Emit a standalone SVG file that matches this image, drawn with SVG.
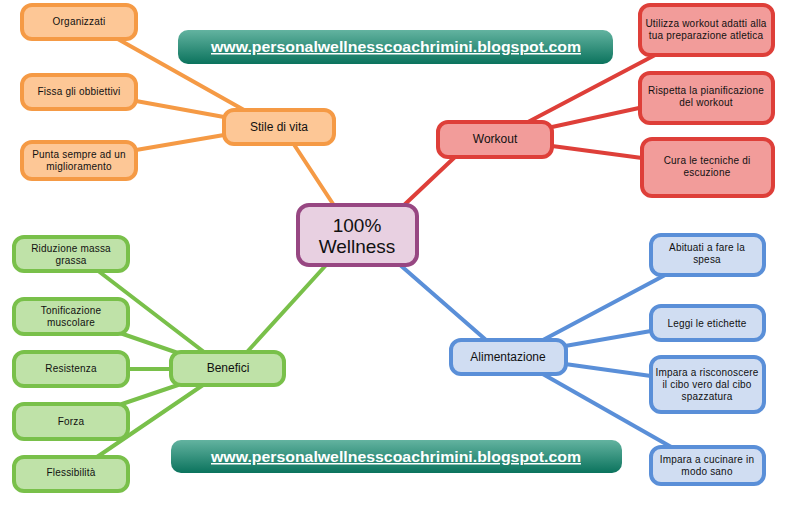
<svg xmlns="http://www.w3.org/2000/svg" width="787" height="509" viewBox="0 0 787 509">
<defs>
<linearGradient id="bg" x1="0" y1="0" x2="0" y2="1">
<stop offset="0" stop-color="#63b3a0"/>
<stop offset="1" stop-color="#0b735d"/>
</linearGradient>
<style>
text{font-family:"Liberation Sans",Arial,sans-serif;fill:#111;text-anchor:middle}
.s{font-size:10px;letter-spacing:0.2px}
.m{font-size:12px}
.c{font-size:19px}
.b{font-size:15px;font-weight:bold;fill:#fff;text-decoration:underline}
.o rect{fill:#fdc796;stroke:#f59a45;stroke-width:4}
.r rect{fill:#f29c9a;stroke:#de3f39;stroke-width:4}
.g rect{fill:#bfe2a8;stroke:#79c04a;stroke-width:4}
.bl rect{fill:#d0ddf2;stroke:#5a8fd8;stroke-width:4}
.p rect{fill:#e8d0e1;stroke:#974782;stroke-width:4}
#connectors line{stroke-width:4;stroke-linecap:round}
.lo{stroke:#f59a45}.lr{stroke:#de3f39}.lg{stroke:#79c04a}.lb{stroke:#5a8fd8}
.ban{fill:url(#bg)}
</style>
</defs>
<rect width="787" height="509" fill="#fff"/>
<g id="connectors">
<line class="lo" x1="335" y1="207" x2="293" y2="143"/>
<line class="lo" x1="116" y1="38" x2="244" y2="110"/>
<line class="lo" x1="136" y1="101" x2="224" y2="117"/>
<line class="lo" x1="136" y1="150" x2="224" y2="135"/>
<line class="lr" x1="402" y1="207" x2="456" y2="156"/>
<line class="lr" x1="528" y1="122" x2="657" y2="54"/>
<line class="lr" x1="552" y1="127" x2="639" y2="108"/>
<line class="lr" x1="552" y1="146" x2="642" y2="158"/>
<line class="lg" x1="327" y1="264" x2="247" y2="352"/>
<line class="lg" x1="97" y1="270" x2="204" y2="352"/>
<line class="lg" x1="120" y1="333" x2="178" y2="353"/>
<line class="lg" x1="128" y1="369" x2="172" y2="369"/>
<line class="lg" x1="122" y1="404" x2="178" y2="385"/>
<line class="lg" x1="97" y1="457" x2="203" y2="385"/>
<line class="lb" x1="399" y1="264" x2="486" y2="340"/>
<line class="lb" x1="543" y1="340" x2="667" y2="274"/>
<line class="lb" x1="565" y1="346" x2="651" y2="331"/>
<line class="lb" x1="565" y1="364" x2="651" y2="376"/>
<line class="lb" x1="541" y1="373" x2="673" y2="448"/>
</g>
<g id="banner-top">
<rect class="ban" x="178" y="30" width="435" height="34" rx="10"/>
<text class="b" x="396" y="52" textLength="370" lengthAdjust="spacingAndGlyphs">www.personalwellnesscoachrimini.blogspot.com</text>
</g>
<g id="banner-bottom">
<rect class="ban" x="171" y="440" width="451" height="33" rx="10"/>
<text class="b" x="396" y="462" textLength="370" lengthAdjust="spacingAndGlyphs">www.personalwellnesscoachrimini.blogspot.com</text>
</g>
<g id="center" class="p">
<rect x="298" y="205" width="119" height="60" rx="11"/>
<text class="c" x="357" y="232">100%</text>
<text class="c" x="357" y="253">Wellness</text>
</g>
<g id="stile" class="o">
<rect x="224" y="110" width="110" height="34" rx="10"/>
<text class="m" x="279" y="131">Stile di vita</text>
</g>
<g id="organizzati" class="o">
<rect x="22" y="5" width="114" height="34" rx="10"/>
<text class="s" x="79" y="25">Organizzati</text>
</g>
<g id="fissa" class="o">
<rect x="22" y="75" width="114" height="34" rx="10"/>
<text class="s" x="79" y="95">Fissa gli obbiettivi</text>
</g>
<g id="punta" class="o">
<rect x="22" y="142" width="114" height="37" rx="10"/>
<text class="s" x="79" y="158">Punta sempre ad un</text>
<text class="s" x="79" y="170">miglioramento</text>
</g>
<g id="workout" class="r">
<rect x="438" y="122" width="114" height="35" rx="10"/>
<text class="m" x="495" y="143">Workout</text>
</g>
<g id="utilizza" class="r">
<rect x="640" y="5" width="133" height="50" rx="10"/>
<text class="s" x="706" y="27">Utilizza workout adatti alla</text>
<text class="s" x="706" y="39">tua preparazione atletica</text>
</g>
<g id="rispetta" class="r">
<rect x="640" y="73" width="133" height="50" rx="10"/>
<text class="s" x="706" y="94">Rispetta la pianificazione</text>
<text class="s" x="706" y="106">del workout</text>
</g>
<g id="cura" class="r">
<rect x="642" y="139" width="131" height="57" rx="10"/>
<text class="s" x="707" y="164">Cura le tecniche di</text>
<text class="s" x="707" y="176">escuzione</text>
</g>
<g id="benefici" class="g">
<rect x="171" y="352" width="113" height="33" rx="10"/>
<text class="m" x="228" y="372">Benefici</text>
</g>
<g id="riduzione" class="g">
<rect x="14" y="237" width="114" height="34" rx="10"/>
<text class="s" x="71" y="252">Riduzione massa</text>
<text class="s" x="71" y="264">grassa</text>
</g>
<g id="tonificazione" class="g">
<rect x="14" y="299" width="114" height="35" rx="10"/>
<text class="s" x="71" y="314">Tonificazione</text>
<text class="s" x="71" y="326">muscolare</text>
</g>
<g id="resistenza" class="g">
<rect x="14" y="352" width="114" height="34" rx="10"/>
<text class="s" x="71" y="372">Resistenza</text>
</g>
<g id="forza" class="g">
<rect x="14" y="404" width="114" height="35" rx="10"/>
<text class="s" x="71" y="425">Forza</text>
</g>
<g id="flessibilita" class="g">
<rect x="14" y="457" width="114" height="34" rx="10"/>
<text class="s" x="71" y="476">Flessibilità</text>
</g>
<g id="alimentazione" class="bl">
<rect x="451" y="340" width="115" height="34" rx="10"/>
<text class="m" x="508" y="361">Alimentazione</text>
</g>
<g id="abituati" class="bl">
<rect x="651" y="235" width="113" height="40" rx="10"/>
<text class="s" x="707" y="251">Abituati a fare la</text>
<text class="s" x="707" y="263">spesa</text>
</g>
<g id="leggi" class="bl">
<rect x="651" y="306" width="113" height="34" rx="10"/>
<text class="s" x="707" y="327">Leggi le etichette</text>
</g>
<g id="riconoscere" class="bl">
<rect x="651" y="357" width="113" height="55" rx="10"/>
<text class="s" x="707" y="376">Impara a risconoscere</text>
<text class="s" x="707" y="388">il cibo vero dal cibo</text>
<text class="s" x="707" y="400">spazzatura</text>
</g>
<g id="cucinare" class="bl">
<rect x="651" y="447" width="113" height="37" rx="10"/>
<text class="s" x="707" y="463">Impara a cucinare in</text>
<text class="s" x="707" y="475">modo sano</text>
</g>
</svg>
